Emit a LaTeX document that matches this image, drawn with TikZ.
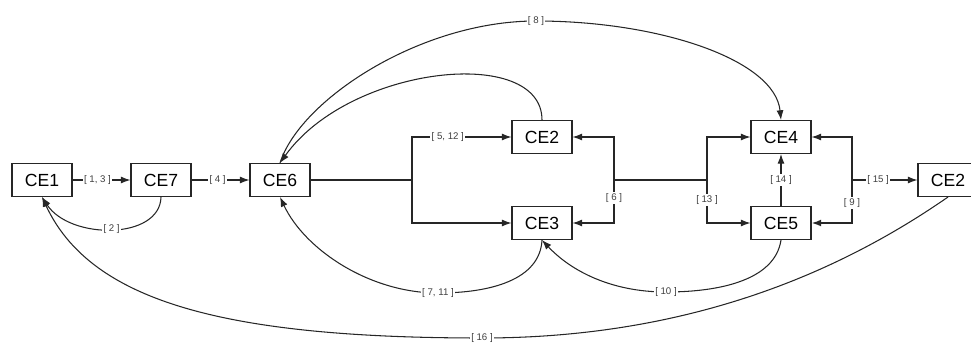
\documentclass[tikz,border=0pt]{standalone}
\usepackage{fontspec}
\setmainfont{Liberation Sans}
\usetikzlibrary{arrows.meta}

\begin{document}
\begin{tikzpicture}[x=0.02cm, y=-0.02cm,
    boite/.style={draw=black!85, line width=0.6pt, minimum width=1.2cm, minimum height=0.66cm,
                  inner sep=0pt, font=\fontsize{10}{12}\selectfont},
    lien/.style={draw=black!85, line width=0.6pt},
    fleche/.style={lien, -{Latex[length=5.5pt, width=4pt]}},
    etiq/.style={fill=white, inner sep=0.8pt, text=black!75, font=\fontsize{5.5}{6}\selectfont}]
    \useasboundingbox (0,0) rectangle (971,345);
    % Boites
    \node[boite] (ce1) at (42,180) {CE1};
    \node[boite] (ce7) at (161,180) {CE7};
    \node[boite] (ce6) at (280,180) {CE6};
    \node[boite] (ce2) at (542,137) {CE2};
    \node[boite] (ce3) at (542,223) {CE3};
    \node[boite] (ce4) at (781,137) {CE4};
    \node[boite] (ce5) at (781,223) {CE5};
    \node[boite] (ce2b) at (948,180) {CE2};
    % Embranchements
    \coordinate (f1) at (412,180);
    \coordinate (f2) at (614,180);
    \coordinate (f3) at (707,180);
    \coordinate (f4) at (852,180);
    % Liaisons droites
    \draw[fleche] (ce1) -- node[etiq, pos=0.43]{[ 1, 3 ]} (ce7);
    \draw[fleche] (ce7) -- node[etiq, pos=0.45]{[ 4 ]} (ce6);
    \draw[lien] (ce6.east) -- (f1);
    \draw[fleche] (f1) |- node[etiq, pos=0.68]{[ 5, 12 ]} (ce2.west);
    \draw[fleche] (f1) |- (ce3.west);
    \draw[lien] (f2) -- (f3);
    \draw[fleche] (f2) |- (ce2.east);
    \draw[fleche] (f2) |- node[etiq, pos=0.21]{[ 6 ]} (ce3.east);
    \draw[fleche] (f3) |- (ce4.west);
    \draw[fleche] (f3) |- node[etiq, pos=0.23]{[ 13 ]} (ce5.west);
    \draw[fleche] (ce5.north) -- node[etiq]{[ 14 ]} (ce4.south);
    \draw[fleche] (f4) |- (ce4.east);
    \draw[fleche, line width=1pt] (f4) |- node[etiq, pos=0.27]{[ 9 ]} (ce5.east);
    \draw[fleche] (f4) -- node[etiq, pos=0.4]{[ 15 ]} (ce2b.west);
    % Liaisons courbes
    \draw[fleche] (ce7.south) .. controls (160,240) and (70,240) .. (ce1.south)
        node[etiq, pos=0.5]{[ 2 ]};
    \draw[fleche] (ce2.north) .. controls (542,45) and (350,65) .. (ce6.north);
    \draw[fleche] (ce6.north) .. controls (300,100) and (420,21) .. (536,21)
        node[etiq]{[ 8 ]} .. controls (660,21) and (775,60) .. (ce4.north);
    \draw[fleche] (ce3.south) .. controls (540,280) and (490,293) .. (438,293)
        node[etiq]{[ 7, 11 ]} .. controls (370,293) and (305,250) .. (ce6.south);
    \draw[fleche] (ce5.south) .. controls (775,280) and (720,292) .. (666,292)
        node[etiq]{[ 10 ]} .. controls (610,292) and (570,270) .. (ce3.south);
    \draw[fleche] (ce2b.south) .. controls (850,265) and (700,338) .. (482,338)
        node[etiq]{[ 16 ]} .. controls (220,338) and (90,300) .. (ce1.south);
\end{tikzpicture}
\end{document}
